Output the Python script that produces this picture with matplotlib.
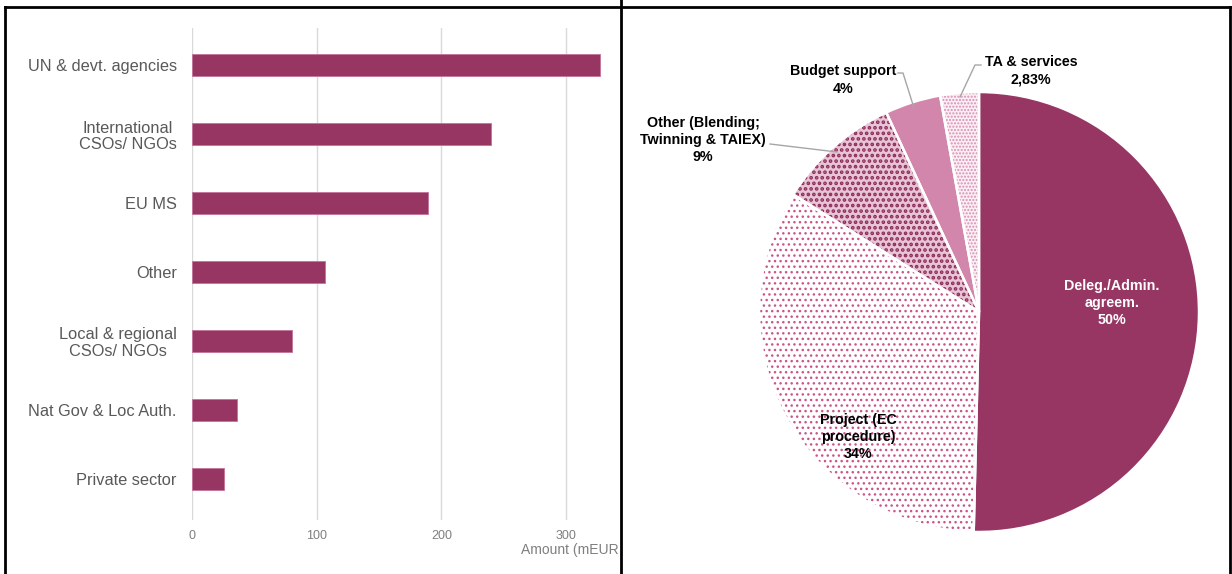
import numpy as np
import matplotlib
matplotlib.use("Agg")
import matplotlib.pyplot as plt
from matplotlib.transforms import Bbox, TransformedBbox

plt.rcParams['font.family'] = ['Liberation Sans', 'DejaVu Sans']
plt.rcParams['hatch.linewidth'] = 1.0

# left chart data
categories = ['UN & devt. agencies', 'International\nCSOs/ NGOs', 'EU MS', 'Other',
              'Local & regional\nCSOs/ NGOs', 'Nat Gov & Loc Auth.', 'Private sector']
amounts = [327, 240, 189, 107, 80, 36, 26]
x_ticks = [0, 100, 200, 300]

# right chart data
pie_labels = ['Deleg./Admin.\nagreem.\n50%', 'Project (EC\nprocedure)\n34%',
              'Other (Blending;\nTwinning & TAIEX)\n9%', 'Budget support\n4%',
              'TA & services\n2,83%']
pie_shares = [50.4, 33.6, 9.1, 4.1, 2.83]

W, H = 1232, 574
fig = plt.figure(figsize=(W / 100, H / 100), dpi=100)

def px(x0, y0, x1, y1):
    # pixel box -> figure fraction rect
    return [x0 / W, 1 - y1 / H, (x1 - x0) / W, (y1 - y0) / H]

purple = '#973563'
grey_txt = '#595959'

# ---- bar chart ----
ax = fig.add_axes(px(192, 28, 621, 520))
y = np.arange(len(categories))
ax.barh(y, amounts, height=0.32, color=purple, edgecolor='#c47399', linewidth=0.6, zorder=3)
ax.set_xlim(0, 344)
ax.set_ylim(6.6, -0.54)
ax.set_xticks(x_ticks)
ax.set_yticks(y)
ax.set_yticklabels(categories, fontsize=11.8, color=grey_txt, multialignment='center',
                   linespacing=1.1)
ax.tick_params(axis='y', length=0, pad=11)
ax.tick_params(axis='x', length=0, pad=7, labelsize=9, labelcolor='#7f7f7f')
ax.xaxis.grid(True, color='#d9d9d9', linewidth=1, zorder=0)
for s in ax.spines.values():
    s.set_visible(False)

t = fig.text(521 / W, 1 - 550 / H, 'Amount (mEUR)', fontsize=10, color='#7f7f7f',
             ha='left', va='center')
t.set_clip_box(TransformedBbox(Bbox([[0, 0], [619 / W, 1]]), fig.transFigure))
t.set_clip_on(True)

# ---- pie chart ----
cx, cy, r = 979, 312, 220
ax2 = fig.add_axes(px(cx - r, cy - r, cx + r, cy + r))
faces = [purple, 'white', '#e9c4d6', '#d386ac', '#fbeef4']
hatch_cols = [purple, '#c9558a', '#8a2c58', '#d386ac', '#d98fb3']
hatches = [None, '...', '...', None, '.....']
hatch_lw = [1.0, 1.0, 1.8, 1.0, 1.0]
wedges, _ = ax2.pie(pie_shares, startangle=90, counterclock=False, radius=1,
                    colors=faces, wedgeprops=dict(linewidth=0))
for w, hc, h, hl in zip(wedges, hatch_cols, hatches, hatch_lw):
    w.set_edgecolor(hc)
    if h:
        w.set_hatch(h)
        if hasattr(w, 'set_hatch_linewidth'):
            w.set_hatch_linewidth(hl)
ax2.pie(pie_shares, startangle=90, counterclock=False, radius=1,
        colors=['none'] * len(pie_shares),
        wedgeprops=dict(linewidth=1.8, edgecolor='white', facecolor='none'))
ax2.set_xlim(-1, 1)
ax2.set_ylim(-1, 1)
ax2.set_aspect('equal')
ax2.axis('off')

def d(p, q):
    return ((p - cx) / r, (cy - q) / r)

lbl_pos = [(1112, 303), (858, 437), (703, 140), (843, 80), (1031, 71)]
lbl_col = ['white', 'black', 'black', 'black', 'black']
for lab, (p, q), c in zip(pie_labels, lbl_pos, lbl_col):
    ax2.text(*d(p, q), lab, ha='center', va='center', fontsize=10.3, fontweight='bold',
             color=c, linespacing=1.3, clip_on=False)

leaders = [[(770, 144), (837, 152)],
           [(898, 73), (903, 73), (914, 108)],
           [(981, 65), (975, 65), (960, 97)]]
for pts in leaders:
    xs, ys = zip(*[d(p, q) for p, q in pts])
    ax2.plot(xs, ys, color='#a6a6a6', linewidth=1, clip_on=False)

# ---- table frame ----
frame = dict(color='black', linewidth=2, transform=fig.transFigure, clip_on=False)
fig.add_artist(plt.Line2D([5 / W, 1231 / W], [1 - 7 / H, 1 - 7 / H], **frame))
fig.add_artist(plt.Line2D([5 / W, 5 / W], [0, 1 - 7 / H], **frame))
fig.add_artist(plt.Line2D([621 / W, 621 / W], [0, 1], **frame))
fig.add_artist(plt.Line2D([1230 / W, 1230 / W], [0, 1 - 7 / H], **frame))

fig.savefig('out.png', dpi=100)
